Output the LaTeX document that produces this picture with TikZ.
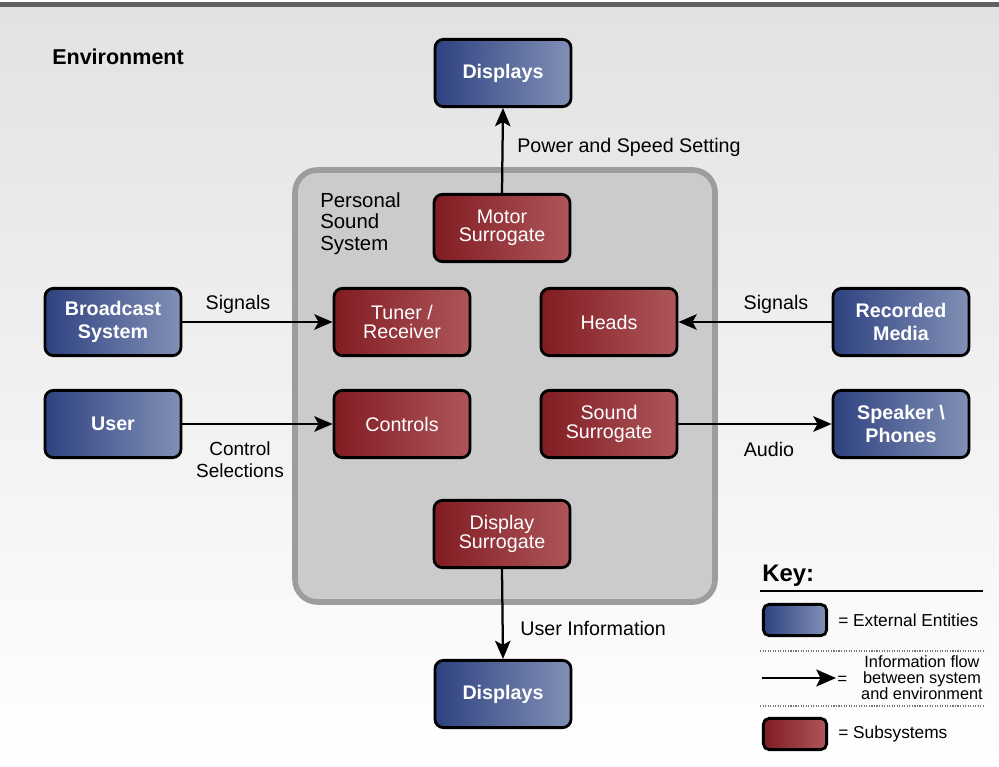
\documentclass[tikz,border=0pt]{standalone}
\usepackage{fontspec}
\setmainfont{Liberation Sans}
\usetikzlibrary{positioning, arrows.meta}

\definecolor{extdark}{RGB}{46,66,128}
\definecolor{extlight}{RGB}{130,144,182}
\definecolor{subdark}{RGB}{128,28,34}
\definecolor{sublight}{RGB}{174,86,90}
\definecolor{sysfill}{RGB}{203,203,203}
\definecolor{sysedge}{RGB}{156,158,158}
\definecolor{envtop}{RGB}{226,226,226}

\begin{document}
\begin{tikzpicture}[x=0.025cm, y=-0.025cm,
    extbox/.style={draw=black, line width=2pt, rounded corners=6pt,
        left color=extdark, right color=extlight, text=white,
        font=\fontsize{14}{16.4}\selectfont\bfseries, align=center,
        minimum width=3.4cm, minimum height=1.68cm, inner sep=0pt},
    subbox/.style={draw=black, line width=2pt, rounded corners=6pt,
        left color=subdark, right color=sublight, text=white,
        font=\fontsize{14}{13}\selectfont, align=center,
        minimum width=3.4cm, minimum height=1.68cm, inner sep=0pt},
    flow/.style={line width=1.6pt, -{Stealth[length=13pt, width=11pt, inset=3pt]}},
    lbl/.style={font=\fontsize{14}{16}\selectfont, align=center, inner sep=0pt}]

    \useasboundingbox (0,0) rectangle (999,767);

    % Umgebung (Hintergrund)
    \shade[top color=envtop, bottom color=white] (0,6) rectangle (999,767);
    \fill[black!62] (0,2) rectangle (999,7);
    \node[anchor=west, inner sep=0pt, font=\fontsize{15.3}{17}\selectfont\bfseries] (env) at (52,57) {Environment};

    % System
    \draw[sysedge, fill=sysfill, line width=4pt, rounded corners=16pt] (295,170) rectangle (715,602);
    \node[anchor=north west, align=left, inner sep=0pt, font=\fontsize{14.5}{15.6}\selectfont] (pss) at (320,192)
        {Personal\\Sound\\System};

    % Subsysteme
    \node[subbox] (motor) at (502,228) {Motor\\Surrogate};
    \node[subbox] (tuner) at (402,322) {Tuner /\\Receiver};
    \node[subbox] (heads) at (609,322) {Heads};
    \node[subbox] (controls) at (402,424) {Controls};
    \node[subbox] (sound) at (609,424) {Sound\\Surrogate};
    \node[subbox] (dispsur) at (502,534) {Display\\Surrogate};

    % externe Einheiten
    \node[extbox] (disptop) at (503,73) {Displays};
    \node[extbox] (broadcast) at (113,322) {Broadcast\\System};
    \node[extbox] (user) at (113,424) {User};
    \node[extbox] (recorded) at (901,322) {Recorded\\Media};
    \node[extbox] (speaker) at (901,424) {Speaker \textbackslash\\Phones};
    \node[extbox] (dispbot) at (503,694) {Displays};

    % Informationsfluss
    \draw[flow] (motor.north) -- (disptop.south);
    \draw[flow] (broadcast.east) -- (tuner.west);
    \draw[flow] (user.east) -- (controls.west);
    \draw[flow] (recorded.west) -- (heads.east);
    \draw[flow] (sound.east) -- (speaker.west);
    \draw[flow] (dispsur.south) -- (dispbot.north);

    % Beschriftungen
    \node[lbl, anchor=west] (power) at (517,147) {Power and Speed Setting};
    \node[lbl] (sigleft) at (238,304) {Signals};
    \node[lbl] (sigright) at (776,304) {Signals};
    \node[lbl, font=\fontsize{13.5}{15.5}\selectfont] (ctrlsel) at (240,460) {Control\\Selections};
    \node[lbl] (audio) at (769,449) {Audio};
    \node[lbl, anchor=west] (userinfo) at (520,628) {User Information};

    % Legende
    \node[anchor=west, inner sep=0pt, font=\fontsize{17}{19}\selectfont\bfseries] (key) at (762,576) {Key:};
    \draw[line width=0.8pt] (760,591) -- (983,591);
    \node[draw=black, line width=2pt, rounded corners=4pt, left color=extdark, right color=extlight,
        minimum width=1.58cm, minimum height=0.78cm, inner sep=0pt] (keyext) at (795,620) {};
    \node[anchor=west, inner sep=0pt, font=\fontsize{12.3}{13}\selectfont] (keyexttxt) at (838,620) {= External Entities};
    \draw[black!55, densely dotted, line width=0.8pt] (760,651) -- (983,651);
    \coordinate (keya) at (762,678);
    \coordinate (keyb) at (836,678);
    \draw[line width=1.8pt, -{Stealth[length=14pt, width=12pt, inset=3pt]}] (keya) -- (keyb);
    \node[anchor=west, inner sep=0pt, font=\fontsize{12}{12}\selectfont] (keyeq) at (837,680) {=};
    \node[anchor=east, inner sep=0pt, align=center, font=\fontsize{11.6}{11.4}\selectfont] (keyflowtxt) at (983,678)
        {Information flow\\between system\\and environment};
    \draw[black!55, densely dotted, line width=0.8pt] (760,706) -- (983,706);
    \node[draw=black, line width=2pt, rounded corners=4pt, left color=subdark, right color=sublight,
        minimum width=1.58cm, minimum height=0.78cm, inner sep=0pt] (keysub) at (795,734) {};
    \node[anchor=west, inner sep=0pt, font=\fontsize{12.3}{13}\selectfont] (keysubtxt) at (838,734) {= Subsystems};
\end{tikzpicture}
\end{document}
